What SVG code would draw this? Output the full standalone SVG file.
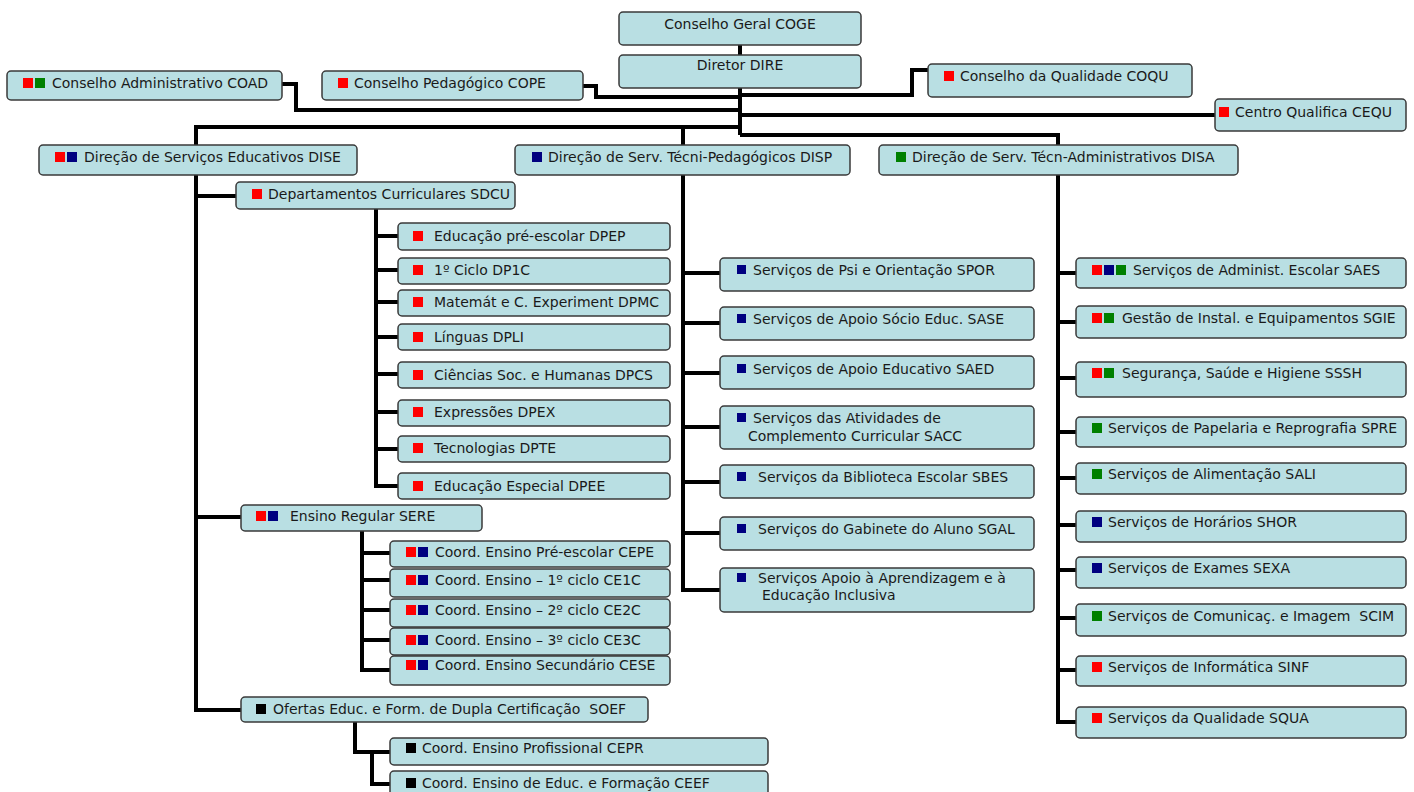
<svg xmlns="http://www.w3.org/2000/svg" width="1414" height="792" viewBox="0 0 1414 792">
<style>
.b{fill:#b9dfe3;stroke:#3a3a3a;stroke-width:1.5}
.t{font-family:"DejaVu Sans",Verdana,sans-serif;font-size:14px;fill:#1a1a1a;white-space:pre}
.c{text-anchor:middle}
.r{fill:#ff0000}.n{fill:#000080}.g{fill:#008000}.k{fill:#000}
.ln{fill:none;stroke:#000;stroke-width:4;stroke-linejoin:miter}
</style>
<rect width="1414" height="792" fill="#fff"/>
<g id="connectors" class="ln">
<path d="M740 45V55M740 88V135"/>
<path d="M282 84H296V110H740"/>
<path d="M583 86H596V97H740"/>
<path d="M740 95H912V70H928"/>
<path d="M740 115H1215"/>
<path d="M740 135H1058V145"/>
<path d="M196 145V127H740M683 127V145"/>
<path d="M196 175V710H241M196 196H236M196 517H241"/>
<path d="M376 209V486H398M376 236H398M376 270H398M376 302H398M376 337H398M376 374H398M376 412H398M376 449H398"/>
<path d="M362 531V670H390M362 553H390M362 580H390M362 610H390M362 640H390"/>
<path d="M355 722V752H390M372 752V784H390"/>
<path d="M683 175V590H720M683 273H720M683 323H720M683 373H720M683 427H720M683 482H720M683 533H720"/>
<path d="M1058 175V722H1076M1058 273H1076M1058 322H1076M1058 378H1076M1058 432H1076M1058 478H1076M1058 525H1076M1058 570H1076M1058 618H1076M1058 670H1076"/>
</g>
<g id="COGE"><rect class="b" x="619" y="12" width="242" height="33" rx="4"/><text class="t c" x="740" y="29">Conselho Geral COGE</text></g>
<g id="DIRE"><rect class="b" x="619" y="55" width="242" height="33" rx="4"/><text class="t c" x="740" y="70">Diretor DIRE</text></g>
<g id="COAD"><rect class="b" x="7" y="71" width="275" height="29" rx="4"/><rect class="r" x="23" y="78" width="10" height="10"/><rect class="g" x="35" y="78" width="10" height="10"/><text class="t" x="52" y="88">Conselho Administrativo COAD</text></g>
<g id="COPE"><rect class="b" x="322" y="71" width="261" height="29" rx="4"/><rect class="r" x="338" y="78" width="10" height="10"/><text class="t" x="354" y="88">Conselho Pedagógico COPE</text></g>
<g id="COQU"><rect class="b" x="928" y="64" width="264" height="33" rx="4"/><rect class="r" x="944" y="71" width="10" height="10"/><text class="t" x="960" y="81">Conselho da Qualidade COQU</text></g>
<g id="CEQU"><rect class="b" x="1215" y="99" width="191" height="32" rx="4"/><rect class="r" x="1219" y="107" width="10" height="10"/><text class="t" x="1235" y="117">Centro Qualifica CEQU</text></g>
<g id="DISE"><rect class="b" x="39" y="145" width="318" height="30" rx="4"/><rect class="r" x="55" y="152" width="10" height="10"/><rect class="n" x="67" y="152" width="10" height="10"/><text class="t" x="84" y="162">Direção de Serviços Educativos DISE</text></g>
<g id="DISP"><rect class="b" x="515" y="145" width="335" height="30" rx="4"/><rect class="n" x="532" y="152" width="10" height="10"/><text class="t" x="548" y="162">Direção de Serv. Técni-Pedagógicos DISP</text></g>
<g id="DISA"><rect class="b" x="879" y="145" width="359" height="30" rx="4"/><rect class="g" x="896" y="152" width="10" height="10"/><text class="t" x="912" y="162">Direção de Serv. Técn-Administrativos DISA</text></g>
<g id="SDCU"><rect class="b" x="236" y="182" width="279" height="27" rx="4"/><rect class="r" x="252" y="189" width="10" height="10"/><text class="t" x="268" y="199">Departamentos Curriculares SDCU</text></g>
<g id="DPEP"><rect class="b" x="398" y="223" width="272" height="27" rx="4"/><rect class="r" x="413" y="231" width="10" height="10"/><text class="t" x="434" y="241">Educação pré-escolar DPEP</text></g>
<g id="DP1C"><rect class="b" x="398" y="258" width="272" height="26" rx="4"/><rect class="r" x="413" y="265" width="10" height="10"/><text class="t" x="434" y="275">1º Ciclo DP1C</text></g>
<g id="DPMC"><rect class="b" x="398" y="290" width="272" height="26" rx="4"/><rect class="r" x="413" y="297" width="10" height="10"/><text class="t" x="434" y="307">Matemát e C. Experiment DPMC</text></g>
<g id="DPLI"><rect class="b" x="398" y="324" width="272" height="26" rx="4"/><rect class="r" x="413" y="332" width="10" height="10"/><text class="t" x="434" y="342">Línguas DPLI</text></g>
<g id="DPCS"><rect class="b" x="398" y="362" width="272" height="26" rx="4"/><rect class="r" x="413" y="370" width="10" height="10"/><text class="t" x="434" y="380">Ciências Soc. e Humanas DPCS</text></g>
<g id="DPEX"><rect class="b" x="398" y="400" width="272" height="26" rx="4"/><rect class="r" x="413" y="407" width="10" height="10"/><text class="t" x="434" y="417">Expressões DPEX</text></g>
<g id="DPTE"><rect class="b" x="398" y="436" width="272" height="26" rx="4"/><rect class="r" x="413" y="443" width="10" height="10"/><text class="t" x="434" y="453">Tecnologias DPTE</text></g>
<g id="DPEE"><rect class="b" x="398" y="473" width="272" height="26" rx="4"/><rect class="r" x="413" y="481" width="10" height="10"/><text class="t" x="434" y="491">Educação Especial DPEE</text></g>
<g id="SERE"><rect class="b" x="241" y="505" width="241" height="26" rx="4"/><rect class="r" x="256" y="511" width="10" height="10"/><rect class="n" x="268" y="511" width="10" height="10"/><text class="t" x="290" y="521">Ensino Regular SERE</text></g>
<g id="CEPE"><rect class="b" x="390" y="541" width="280" height="26" rx="4"/><rect class="r" x="406" y="547" width="10" height="10"/><rect class="n" x="418" y="547" width="10" height="10"/><text class="t" x="435" y="557">Coord. Ensino Pré-escolar CEPE</text></g>
<g id="CE1C"><rect class="b" x="390" y="569" width="280" height="28" rx="4"/><rect class="r" x="406" y="575" width="10" height="10"/><rect class="n" x="418" y="575" width="10" height="10"/><text class="t" x="435" y="585">Coord. Ensino – 1º ciclo CE1C</text></g>
<g id="CE2C"><rect class="b" x="390" y="599" width="280" height="28" rx="4"/><rect class="r" x="406" y="605" width="10" height="10"/><rect class="n" x="418" y="605" width="10" height="10"/><text class="t" x="435" y="615">Coord. Ensino – 2º ciclo CE2C</text></g>
<g id="CE3C"><rect class="b" x="390" y="628" width="280" height="27" rx="4"/><rect class="r" x="406" y="635" width="10" height="10"/><rect class="n" x="418" y="635" width="10" height="10"/><text class="t" x="435" y="645">Coord. Ensino – 3º ciclo CE3C</text></g>
<g id="CESE"><rect class="b" x="390" y="656" width="280" height="29" rx="4"/><rect class="r" x="406" y="660" width="10" height="10"/><rect class="n" x="418" y="660" width="10" height="10"/><text class="t" x="435" y="670">Coord. Ensino Secundário CESE</text></g>
<g id="SOEF"><rect class="b" x="241" y="697" width="407" height="25" rx="4"/><rect class="k" x="256" y="704" width="10" height="10"/><text class="t" x="273" y="714">Ofertas Educ. e Form. de Dupla Certificação  SOEF</text></g>
<g id="CEPR"><rect class="b" x="390" y="738" width="378" height="27" rx="4"/><rect class="k" x="406" y="743" width="10" height="10"/><text class="t" x="422" y="753">Coord. Ensino Profissional CEPR</text></g>
<g id="CEEF"><rect class="b" x="390" y="771" width="378" height="29" rx="4"/><rect class="k" x="406" y="778" width="10" height="10"/><text class="t" x="422" y="788">Coord. Ensino de Educ. e Formação CEEF</text></g>
<g id="SPOR"><rect class="b" x="720" y="258" width="314" height="33" rx="4"/><rect class="n" x="737" y="265" width="9" height="9"/><text class="t" x="753" y="275">Serviços de Psi e Orientação SPOR</text></g>
<g id="SASE"><rect class="b" x="720" y="307" width="314" height="33" rx="4"/><rect class="n" x="737" y="314" width="9" height="9"/><text class="t" x="753" y="324">Serviços de Apoio Sócio Educ. SASE</text></g>
<g id="SAED"><rect class="b" x="720" y="356" width="314" height="33" rx="4"/><rect class="n" x="737" y="364" width="9" height="9"/><text class="t" x="753" y="374">Serviços de Apoio Educativo SAED</text></g>
<g id="SACC"><rect class="b" x="720" y="406" width="314" height="43" rx="4"/><rect class="n" x="737" y="413" width="9" height="9"/><text class="t" x="753" y="423">Serviços das Atividades de</text><text class="t" x="748" y="441">Complemento Curricular SACC</text></g>
<g id="SBES"><rect class="b" x="720" y="465" width="314" height="33" rx="4"/><rect class="n" x="737" y="472" width="9" height="9"/><text class="t" x="758" y="482">Serviços da Biblioteca Escolar SBES</text></g>
<g id="SGAL"><rect class="b" x="720" y="517" width="314" height="33" rx="4"/><rect class="n" x="737" y="524" width="9" height="9"/><text class="t" x="758" y="534">Serviços do Gabinete do Aluno SGAL</text></g>
<g id="SAAEI"><rect class="b" x="720" y="568" width="314" height="44" rx="4"/><rect class="n" x="737" y="573" width="9" height="9"/><text class="t" x="758" y="583">Serviços Apoio à Aprendizagem e à</text><text class="t" x="762" y="600">Educação Inclusiva</text></g>
<g id="SAES"><rect class="b" x="1076" y="258" width="330" height="30" rx="4"/><rect class="r" x="1092" y="265" width="10" height="10"/><rect class="n" x="1104" y="265" width="10" height="10"/><rect class="g" x="1116" y="265" width="10" height="10"/><text class="t" x="1133" y="275">Serviços de Administ. Escolar SAES</text></g>
<g id="SGIE"><rect class="b" x="1076" y="306" width="330" height="32" rx="4"/><rect class="r" x="1092" y="313" width="10" height="10"/><rect class="g" x="1104" y="313" width="10" height="10"/><text class="t" x="1122" y="323">Gestão de Instal. e Equipamentos SGIE</text></g>
<g id="SSSH"><rect class="b" x="1076" y="362" width="330" height="35" rx="4"/><rect class="r" x="1092" y="368" width="10" height="10"/><rect class="g" x="1104" y="368" width="10" height="10"/><text class="t" x="1122" y="378">Segurança, Saúde e Higiene SSSH</text></g>
<g id="SPRE"><rect class="b" x="1076" y="417" width="330" height="30" rx="4"/><rect class="g" x="1092" y="423" width="10" height="10"/><text class="t" x="1108" y="433">Serviços de Papelaria e Reprografia SPRE</text></g>
<g id="SALI"><rect class="b" x="1076" y="463" width="330" height="31" rx="4"/><rect class="g" x="1092" y="469" width="10" height="10"/><text class="t" x="1108" y="479">Serviços de Alimentação SALI</text></g>
<g id="SHOR"><rect class="b" x="1076" y="511" width="330" height="31" rx="4"/><rect class="n" x="1092" y="517" width="10" height="10"/><text class="t" x="1108" y="527">Serviços de Horários SHOR</text></g>
<g id="SEXA"><rect class="b" x="1076" y="557" width="330" height="31" rx="4"/><rect class="n" x="1092" y="563" width="10" height="10"/><text class="t" x="1108" y="573">Serviços de Exames SEXA</text></g>
<g id="SCIM"><rect class="b" x="1076" y="604" width="330" height="32" rx="4"/><rect class="g" x="1092" y="611" width="10" height="10"/><text class="t" x="1108" y="621">Serviços de Comunicaç. e Imagem  SCIM</text></g>
<g id="SINF"><rect class="b" x="1076" y="656" width="330" height="30" rx="4"/><rect class="r" x="1092" y="662" width="10" height="10"/><text class="t" x="1108" y="672">Serviços de Informática SINF</text></g>
<g id="SQUA"><rect class="b" x="1076" y="707" width="330" height="31" rx="4"/><rect class="r" x="1092" y="713" width="10" height="10"/><text class="t" x="1108" y="723">Serviços da Qualidade SQUA</text></g>
</svg>
